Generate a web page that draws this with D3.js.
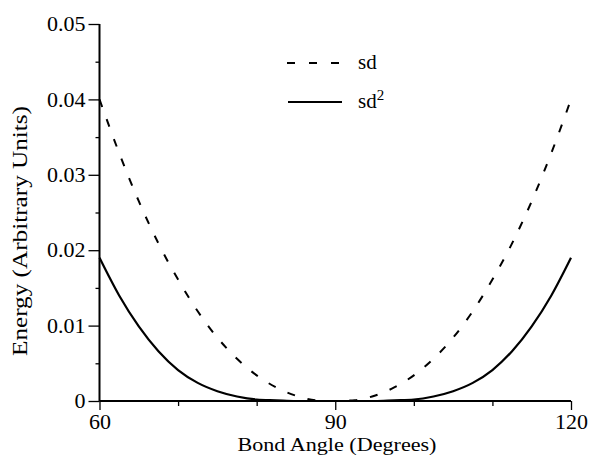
<!DOCTYPE html>
<html>
<head>
<meta charset="utf-8">
<script src="https://cdn.jsdelivr.net/npm/d3@7"></script>
<style>
  html, body { margin: 0; padding: 0; background: #fff; }
  svg { display: block; }
  text { font-family: "Liberation Serif", "Times New Roman", serif; fill: #000; }
</style>
</head>
<body>
<svg id="chart" width="589" height="456"></svg>
<script>
// ---- data ----
const angles = [60, 62.5, 65, 67.5, 70, 72.5, 75, 77.5, 80, 82.5, 85, 87.5, 90,
                92.5, 95, 97.5, 100, 102.5, 105, 107.5, 110, 112.5, 115, 117.5, 120];
const sdValues = [0.0400, 0.0329, 0.0265, 0.0209, 0.0161, 0.0119, 0.0084, 0.0056, 0.0034, 0.0018, 0.0007, 0.0001, 0.0000,
                  0.0001, 0.0007, 0.0018, 0.0034, 0.0056, 0.0084, 0.0119, 0.0161, 0.0209, 0.0265, 0.0329, 0.0400];
const sd2Values = [0.0190, 0.0140, 0.0099, 0.0066, 0.0041, 0.0024, 0.0013, 0.0006, 0.0002, 0.0001, 0.0000, 0.0000, 0.0000,
                   0.0000, 0.0000, 0.0001, 0.0002, 0.0006, 0.0013, 0.0024, 0.0041, 0.0066, 0.0099, 0.0140, 0.0190];
const xMajorTicks = [60, 90, 120];
const xMinorTicks = [70, 80, 100, 110];
const yMajorTicks = [0, 0.01, 0.02, 0.03, 0.04, 0.05];
const yMinorTicks = [0.005, 0.015, 0.025, 0.035, 0.045];
const yTickLabels = ["0", "0.01", "0.02", "0.03", "0.04", "0.05"];
const xTitle = "Bond Angle (Degrees)";
const yTitle = "Energy (Arbitrary Units)";

const svg = d3.select("#chart");
const x = d3.scaleLinear().domain([60, 120]).range([99.5, 571]);
const y = d3.scaleLinear().domain([0, 0.05]).range([401, 24]);
const FONT = '"Liberation Serif", "Times New Roman", serif';

// axes
const xAxisMajor = d3.axisBottom(x).tickValues(xMajorTicks).tickSize(9).tickPadding(6).tickFormat(d3.format("d"));
const xAxisMinor = d3.axisBottom(x).tickValues(xMinorTicks).tickSize(5).tickFormat("");
const yAxisMajor = d3.axisLeft(y).tickValues(yMajorTicks).tickSize(11).tickPadding(3)
  .tickFormat((d, i) => yTickLabels[i]);
const yAxisMinor = d3.axisLeft(y).tickValues(yMinorTicks).tickSize(4).tickFormat("");

function style(g, fs) {
  g.attr("font-family", FONT);
  g.select(".domain").attr("stroke", "#000").attr("stroke-width", 2);
  g.selectAll(".tick line").attr("stroke", "#000").attr("stroke-width", 1.3);
  g.selectAll(".tick text").attr("font-size", fs).attr("font-family", FONT).attr("fill", "#000");
}

const gxm = svg.append("g").attr("transform", `translate(0,${y(0)})`).call(xAxisMinor);
gxm.select(".domain").remove();
gxm.selectAll(".tick line").attr("stroke", "#000").attr("stroke-width", 1.3);
const gx = svg.append("g").attr("transform", `translate(0,${y(0)})`).call(xAxisMajor);
style(gx, 22);
gx.selectAll(".tick text").attr("dy", "0.6em");
gx.select(".domain").attr("d", `M${x(60)},0H${x(120)}`);

const gym = svg.append("g").attr("transform", `translate(${x(60)},0)`).call(yAxisMinor);
gym.select(".domain").remove();
gym.selectAll(".tick line").attr("stroke", "#000").attr("stroke-width", 1.3);
const gy = svg.append("g").attr("transform", `translate(${x(60)},0)`).call(yAxisMajor);
style(gy, 22);
gy.selectAll(".tick text").attr("dy", "0.3em");
gy.select(".domain").attr("d", `M0,${y(0.05)}V${y(0)}`);

// lines
const line = d3.line()
  .x((d, i) => x(angles[i]))
  .y(d => y(d))
  .curve(d3.curveMonotoneX);

svg.append("path").datum(sdValues)
  .attr("d", line)
  .attr("fill", "none").attr("stroke", "#000").attr("stroke-width", 2)
  .attr("stroke-dasharray", "8,13");

svg.append("path").datum(sd2Values)
  .attr("d", line)
  .attr("fill", "none").attr("stroke", "#000").attr("stroke-width", 2.2);

// legend
const legend = svg.append("g");
legend.append("line").attr("x1", 287).attr("x2", 342).attr("y1", 63).attr("y2", 63)
  .attr("stroke", "#000").attr("stroke-width", 2).attr("stroke-dasharray", "8,14");
legend.append("text").attr("x", 358).attr("y", 69).attr("font-size", 21).text("sd");
legend.append("line").attr("x1", 288).attr("x2", 342).attr("y1", 102).attr("y2", 102)
  .attr("stroke", "#000").attr("stroke-width", 2.2);
const t2 = legend.append("text").attr("x", 358).attr("y", 108).attr("font-size", 21);
t2.append("tspan").text("sd");
t2.append("tspan").attr("font-size", 15).attr("dy", -8).text("2");

// titles
svg.append("text")
  .attr("x", 337).attr("y", 451)
  .attr("text-anchor", "middle").attr("font-size", 19)
  .attr("textLength", 199).attr("lengthAdjust", "spacingAndGlyphs")
  .text(xTitle);

svg.append("text")
  .attr("transform", `translate(27,231) rotate(-90)`)
  .attr("text-anchor", "middle").attr("font-size", 22)
  .attr("textLength", 250).attr("lengthAdjust", "spacingAndGlyphs")
  .text(yTitle);
</script>
</body>
</html>
